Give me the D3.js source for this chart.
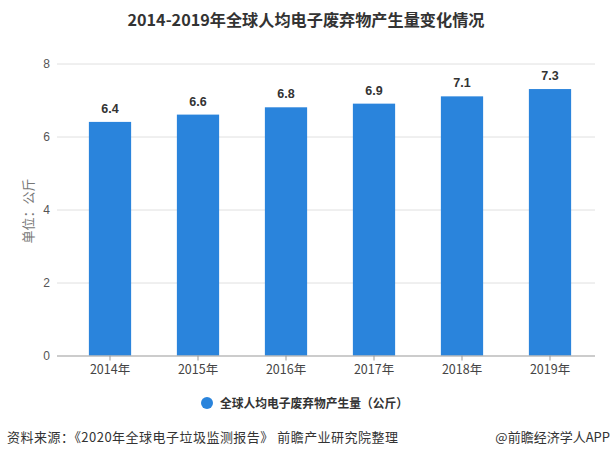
<!DOCTYPE html>
<html><head><meta charset="utf-8">
<script src="https://cdn.jsdelivr.net/npm/d3@7/dist/d3.min.js"></script>
<style>
html,body{margin:0;padding:0;background:#fff;}
svg{display:block;font-family:"Noto Sans CJK SC","Microsoft YaHei",sans-serif;}
</style></head>
<body><svg id="c" width="612" height="459"></svg>
<script>
const categories = ["2014年","2015年","2016年","2017年","2018年","2019年"];
const values = [6.4, 6.6, 6.8, 6.9, 7.1, 7.3];
const yTicks = [0, 2, 4, 6, 8];
const titleText = "2014-2019年全球人均电子废弃物产生量变化情况";
const seriesName = "全球人均电子废弃物产生量（公斤）";
const yAxisTitle = "单位：公斤";
const sourceText = "资料来源：《2020年全球电子垃圾监测报告》 前瞻产业研究院整理";
const creditText = "@前瞻经济学人APP";

const svg = d3.select("#c");
const barColor = "#2A84DC";

const x = d3.scaleBand().domain(categories).range([66, 594]).paddingInner(0.52).paddingOuter(0.26);
const y = d3.scaleLinear().domain([0, 8]).range([355.5, 63.5]);

// title
svg.append("text").attr("x", 306).attr("y", 26).attr("text-anchor", "middle")
  .attr("font-size", 16).attr("font-weight", "bold").attr("fill", "#333")
  .attr("textLength", 357).attr("lengthAdjust", "spacingAndGlyphs").text(titleText);

// y axis labels and gridlines
const yAxis = d3.axisLeft(y).tickValues(yTicks).tickSize(0).tickPadding(7).tickFormat(d3.format("d"));
const gy = svg.append("g").attr("transform", "translate(57,0)").call(yAxis);
gy.select(".domain").remove();
gy.selectAll(".tick line").remove();
gy.selectAll(".tick text").attr("fill", "#555").attr("font-size", 12).attr("font-family", "Liberation Sans, Arial, sans-serif");
svg.append("g").selectAll("line").data(yTicks.filter(d => d > 0)).join("line")
  .attr("x1", 57).attr("x2", 595).attr("y1", d => y(d) + 0.5).attr("y2", d => y(d) + 0.5)
  .attr("stroke", "#e0e0e0").attr("stroke-width", 1);

// bars
svg.append("g").selectAll("rect").data(values).join("rect")
  .attr("x", (d, i) => x(categories[i])).attr("width", x.bandwidth())
  .attr("y", d => y(d)).attr("height", d => y(0) - y(d)).attr("fill", barColor);

// value labels
svg.append("g").selectAll("text").data(values).join("text")
  .attr("x", (d, i) => x(categories[i]) + x.bandwidth() / 2).attr("y", d => y(d) - 9)
  .attr("text-anchor", "middle").attr("font-size", 12.5).attr("font-weight", "bold")
  .attr("fill", "#333").attr("font-family", "Liberation Sans, Arial, sans-serif")
  .text(d => d3.format(".1f")(d));

// x axis
const xAxis = d3.axisBottom(x).tickSize(5).tickPadding(5);
const gx = svg.append("g").attr("transform", `translate(0,${y(0)})`).call(xAxis);
gx.select(".domain").attr("stroke", "#999").attr("d", "M57,0.5H595");
gx.selectAll(".tick line").attr("stroke", "#999");
gx.selectAll(".tick text").attr("fill", "#444").attr("font-size", 12.5)
  .attr("font-family", "Noto Sans CJK SC, sans-serif");

// y axis title
svg.append("text").attr("transform", "translate(33,211) rotate(-90)").attr("text-anchor", "middle")
  .attr("font-size", 13).attr("fill", "#777").text(yAxisTitle);

// legend
svg.append("circle").attr("cx", 207).attr("cy", 403).attr("r", 6).attr("fill", barColor);
svg.append("text").attr("x", 220).attr("y", 408).attr("font-size", 12.5).attr("font-weight", "bold")
  .attr("fill", "#333").attr("textLength", 188).attr("lengthAdjust", "spacingAndGlyphs").text(seriesName);

// footer
svg.append("text").attr("x", 7).attr("y", 442).attr("font-size", 13).attr("fill", "#333")
  .attr("textLength", 391).attr("lengthAdjust", "spacing").text(sourceText);
svg.append("text").attr("x", 610).attr("y", 442).attr("text-anchor", "end").attr("font-size", 13)
  .attr("fill", "#333").text(creditText);
</script></body></html>
